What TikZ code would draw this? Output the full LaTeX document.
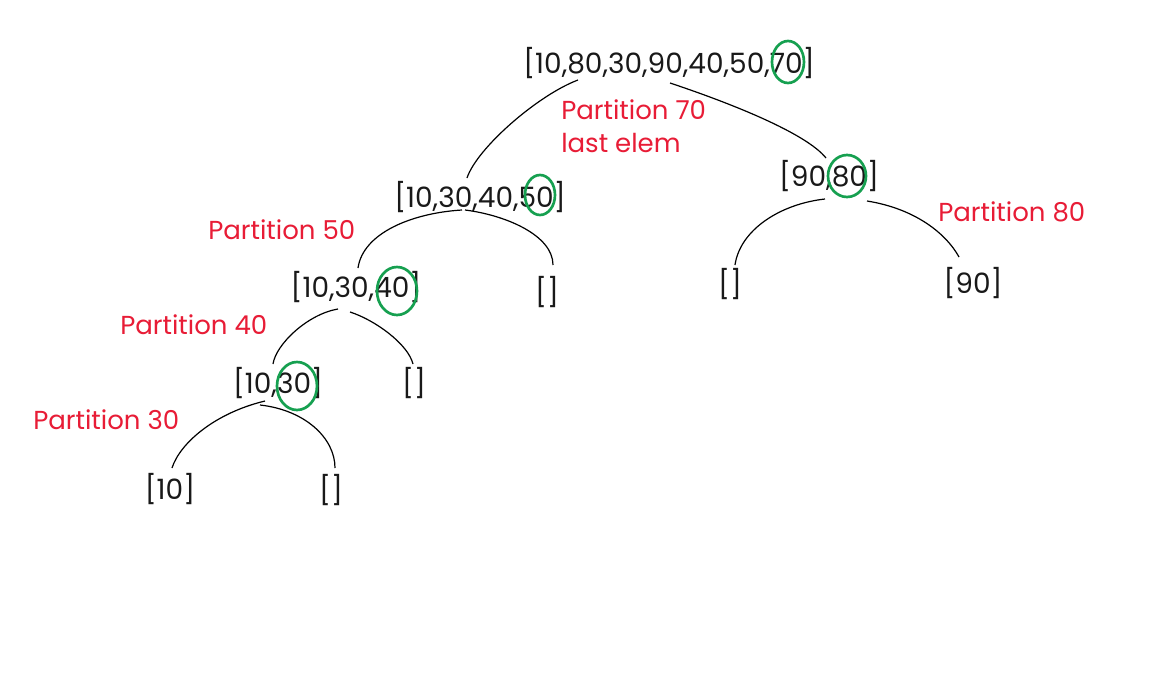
\documentclass[tikz,border=0pt]{standalone}
\usepackage{fontspec}
\setmainfont{Poppins}
\usetikzlibrary{calc}

\definecolor{notered}{RGB}{232,28,54}
\definecolor{pickgreen}{RGB}{22,160,80}

\tikzstyle{list}=[font=\fontsize{21}{24}\selectfont,inner sep=0pt,text=black!90]
\tikzstyle{note}=[font=\fontsize{19.5}{23}\selectfont,inner sep=0pt,anchor=west,text=notered]
\tikzstyle{pivot}=[draw=pickgreen,line width=2pt]
\tikzstyle{branch}=[draw=black,line width=0.9pt]

\begin{document}
\begin{tikzpicture}[x=0.75pt,y=-0.75pt]

   \fill[white] (0,0) rectangle (1161,689);
   \useasboundingbox (0,0) rectangle (1161,689);

   % Lists

   \node[list] (root) at (669,63) {[10,80,30,90,40,50,70]};
   \node[list] (n50) at (480,197) {[10,30,40,50]};
   \node[list] (n80) at (829,176) {[90,80]};
   \node[list] (n40) at (356,287) {[10,30,40]};
   \node[list] (e50) at (547,292) {[]};
   \node[list] (e80) at (730,284) {[]};
   \node[list] (n90) at (973,283) {[90]};
   \node[list] (n30) at (278,383) {[10,30]};
   \node[list] (e40) at (414,383) {[]};
   \node[list] (n10) at (170,489) {[10]};
   \node[list] (e30) at (331,490) {[]};

   % Notes

   \node[note] (p70) at (561,110) {Partition 70};
   \node[note] (last) at (561,143) {last elem};
   \node[note] (p80) at (938,212) {Partition 80};
   \node[note] (p50) at (208,230) {Partition 50};
   \node[note] (p40) at (120,325) {Partition 40};
   \node[note] (p30) at (33,420) {Partition 30};

   % Pivots

   \draw[pivot] ($(root)+(119,-1)$) ellipse [x radius=16, y radius=21];
   \draw[pivot] ($(n50)+(60,-2)$) ellipse [x radius=15, y radius=20];
   \draw[pivot] ($(n80)+(18,0)$) ellipse [x radius=19, y radius=21];
   \draw[pivot] ($(n40)+(41,4)$) ellipse [x radius=20, y radius=24];
   \draw[pivot] ($(n30)+(19,3)$) ellipse [x radius=20, y radius=24];

   % Branches

   \draw[branch] ($(root)+(-91,17)$) .. controls +(-40,15) and +(10,-30) .. ($(n50)+(-13,-19)$);
   \draw[branch] ($(root)+(1,20)$) .. controls +(60,20) and +(-20,-25) .. ($(n80)+(-3,-18)$);
   \draw[branch] ($(n50)+(-18,13)$) .. controls +(-50,3) and +(5,-35) .. ($(n40)+(2,-19)$);
   \draw[branch] ($(n50)+(-15,13)$) .. controls +(40,5) and +(0,-30) .. ($(e50)+(6,-27)$);
   \draw[branch] ($(n40)+(-18,22)$) .. controls +(-30,5) and +(3,-20) .. ($(n30)+(-5,-19)$);
   \draw[branch] ($(n40)+(-6,25)$) .. controls +(25,8) and +(-5,-20) .. ($(e40)+(-1,-19)$);
   \draw[branch] ($(n30)+(-13,18)$) .. controls +(-50,12) and +(8,-25) .. ($(n10)+(2,-21)$);
   \draw[branch] ($(n30)+(-18,22)$) .. controls +(45,5) and +(0,-30) .. ($(e30)+(4,-22)$);
   \draw[branch] ($(n80)+(-4,23)$) .. controls +(-45,5) and +(5,-35) .. ($(e80)+(5,-19)$);
   \draw[branch] ($(n80)+(38,25)$) .. controls +(50,8) and +(-12,-22) .. ($(n90)+(-14,-26)$);

\end{tikzpicture}
\end{document}
